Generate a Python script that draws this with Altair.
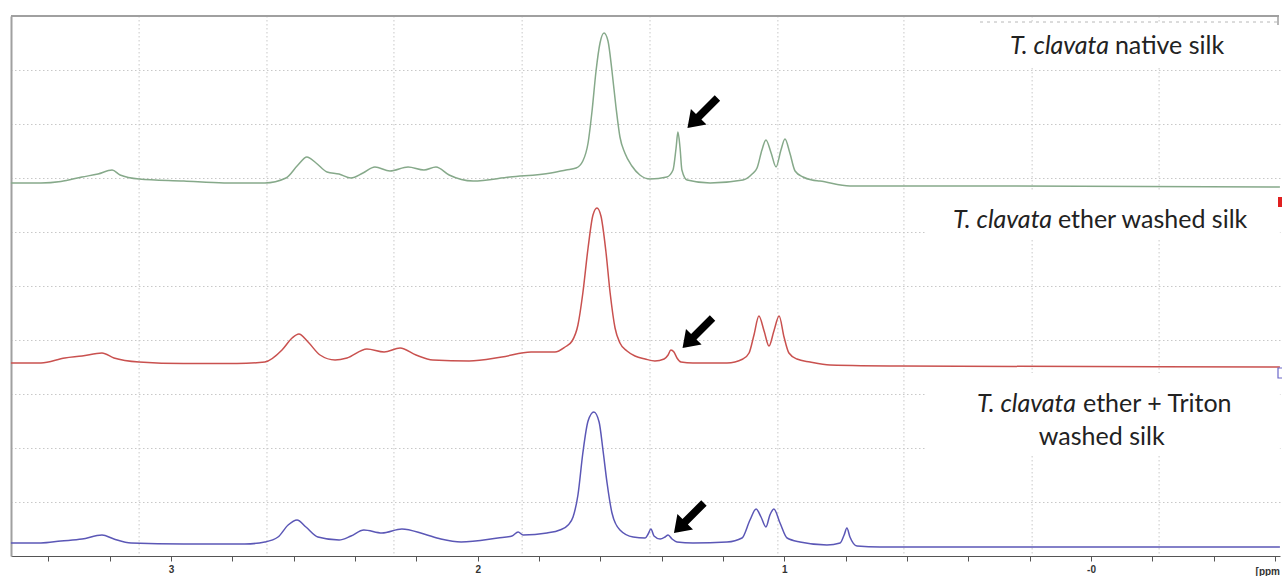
import altair as alt
import pandas as pd

# ---- spectra: chemical shift (ppm) and intensity (a.u.) ----
native_ppm = [3.522, 3.424, 3.359, 3.290, 3.238, 3.192, 3.166, 3.104, 2.958, 2.827, 2.694, 2.625, 2.586, 2.557,
              2.527, 2.491, 2.452, 2.413, 2.374, 2.335, 2.286, 2.227, 2.175, 2.136, 2.093, 2.015, 1.895, 1.761,
              1.712, 1.679, 1.657, 1.640, 1.627, 1.614, 1.601, 1.588, 1.575, 1.562, 1.549, 1.536, 1.520, 1.497,
              1.471, 1.438, 1.383, 1.363, 1.353, 1.347, 1.340, 1.334, 1.317, 1.242, 1.135, 1.105, 1.089, 1.073,
              1.060, 1.043, 1.027, 1.011, 0.998, 0.982, 0.965, 0.939, 0.910, 0.884, 0.786, 0.297, -0.616]
native_int = [0, 0, 1.5, 6, 9, 13, 8, 4, 2, 0, 0, 5, 18, 26,
              20, 11, 9, 5, 10, 16, 12, 16, 13, 16, 8, 2, 6, 10,
              13, 15, 22, 40, 72, 112, 140, 150, 142, 112, 76, 46, 30, 17,
              8, 4, 6, 13, 35, 51, 35, 13, 3, 0, 3, 9, 15, 33,
              43, 30, 16, 33, 44, 30, 12, 6, 3, 2, -3, -3, -4]

ether_ppm = [3.522, 3.424, 3.346, 3.290, 3.225, 3.186, 3.104, 2.958, 2.785, 2.694, 2.638, 2.605, 2.583, 2.553,
             2.514, 2.465, 2.426, 2.361, 2.305, 2.253, 2.201, 2.146, 2.028, 1.921, 1.826, 1.748, 1.715, 1.692,
             1.673, 1.657, 1.640, 1.624, 1.611, 1.598, 1.582, 1.568, 1.552, 1.536, 1.513, 1.487, 1.454, 1.422,
             1.392, 1.379, 1.370, 1.360, 1.350, 1.337, 1.298, 1.187, 1.135, 1.115, 1.099, 1.083, 1.066, 1.050,
             1.034, 1.017, 1.001, 0.985, 0.959, 0.916, 0.851, 0.623, -0.616]
ether_int = [0, 0, 5, 7, 10, 5, 1, -0.5, -0.5, 1, 13, 25, 29, 21,
             8, 3, 5, 14, 11, 15, 8, 3, 2, 6, 11, 11, 16, 22,
             38, 70, 115, 148, 155, 147, 112, 70, 35, 20, 12, 7, 4, 2,
             4, 8, 13, 11, 5, 1, 0, 0, 4, 10, 28, 47, 32, 17,
             32, 47, 26, 10, 4, 1, -2, -3, -4]

triton_ppm = [3.522, 3.424, 3.359, 3.290, 3.225, 3.186, 3.130, 2.958, 2.759, 2.694, 2.651, 2.618, 2.589, 2.560,
              2.521, 2.452, 2.413, 2.371, 2.312, 2.247, 2.175, 2.120, 2.054, 1.934, 1.888, 1.868, 1.852, 1.774,
              1.732, 1.705, 1.689, 1.673, 1.657, 1.640, 1.621, 1.604, 1.591, 1.578, 1.562, 1.536, 1.493, 1.454,
              1.444, 1.435, 1.425, 1.405, 1.389, 1.379, 1.366, 1.350, 1.298, 1.187, 1.138, 1.112, 1.092, 1.076,
              1.060, 1.047, 1.034, 1.014, 0.991, 0.949, 0.861, 0.818, 0.805, 0.796, 0.786, 0.763, 0.688, -0.616]
triton_int = [0, 0, 2, 4, 8, 4, 0, -1, -1, 1, 6, 18, 23, 16,
              6, 3, 7, 13, 10, 14, 9, 4, 1, 5, 7, 11, 8, 10,
              13, 18, 26, 48, 90, 122, 131, 121, 92, 60, 30, 13, 6, 5,
              9, 14, 7, 4, 6, 8, 4, 1, 0, 1, 5, 23, 34, 26,
              16, 28, 34, 20, 5, 1, -2, 0, 8, 15, 6, -3, -4, -4]

traces = ["native", "ether", "triton"]
trace_colors = ["#86a98a", "#c9514f", "#5b57b6"]
stack_offset = [373, 193, 13]          # vertical stacking of the three spectra

# arrows pointing at the 1.35 ppm peak in each spectrum (ppm, stacked height)
arrow_ppm = [1.267, 1.283, 1.311]
arrow_y = [443, 223, 38]

# labels
label_italic = ["T. clavata", "T. clavata", "T. clavata"]
label_rest = ["native silk", "ether washed silk", "ether + Triton"]
label_second = ["washed silk"]

# axis ticks and grid
tick_values = [round(-0.6 + 0.2 * k, 1) for k in range(21)]
vgrid_ppm = [3.104, 2.687, 2.273, 1.855, 1.438, 1.021, 0.610, 0.192, -0.222]
hgrid_vals = [54 * k for k in range(1, 10)]

# ---- tables ----
rows = []
for name, ppm, inten, off in zip(traces, [native_ppm, ether_ppm, triton_ppm],
                                 [native_int, ether_int, triton_int], stack_offset):
    assert len(ppm) == len(inten)
    for p, v in zip(ppm, inten):
        rows.append({"trace": name, "ppm": p, "y": off + v})
spec = pd.DataFrame(rows)

xs = alt.Scale(domain=[-0.6163, 3.5217], reverse=True, nice=False, zero=False)
ys = alt.Scale(domain=[0, 540], nice=False, zero=False)

xaxis = alt.Axis(values=tick_values, grid=False, title=None, tickSize=5, tickColor="#555555",
                 domainColor="#555555", domainWidth=1, labelFont="Liberation Sans", labelFontSize=10,
                 labelFontWeight="bold", labelColor="#333333", labelPadding=3, labelFlush=False,
                 labelOverlap=False,
                 labelExpr="abs(datum.value - round(datum.value)) < 0.01 ? (round(datum.value) == 0 ? '-0' : format(round(datum.value), 'd')) : ''")
yaxis = alt.Axis(values=hgrid_vals, grid=True, gridColor="#c8c8c8", gridDash=[1.5, 2.5], gridWidth=1,
                 ticks=False, labels=False, title=None, domain=True, domainColor="#a0a0a0", domainWidth=2)

X = lambda f="ppm": alt.X(f"{f}:Q", scale=xs, axis=xaxis)
Y = lambda f="y": alt.Y(f"{f}:Q", scale=ys, axis=yaxis)

vgrid = alt.Chart(pd.DataFrame({"ppm": vgrid_ppm})).mark_rule(
    color="#c8c8c8", strokeDash=[1.5, 2.5], strokeWidth=1).encode(x=X())

boxes = pd.DataFrame({"x": [0.362, 0.541, 0.541], "x2": [-0.616, -0.616, -0.616],
                      "y": [534, 364, 183], "y2": [489, 316, 101]})
whites = alt.Chart(boxes).mark_rect(color="white").encode(
    x=X("x"), x2="x2:Q", y=Y("y"), y2="y2:Q")

lines = alt.Chart(spec).mark_line(interpolate="monotone", strokeWidth=1.5).encode(
    x=X(), y=Y(),
    color=alt.Color("trace:N", scale=alt.Scale(domain=traces, range=trace_colors), legend=None),
    detail="trace:N")

arrow_path = "M0,-1 L0.52,-0.25 L0.18,-0.25 L0.18,1 L-0.18,1 L-0.18,-0.25 L-0.52,-0.25 Z"
arrows = alt.Chart(pd.DataFrame({"ppm": arrow_ppm, "y": arrow_y})).mark_point(
    shape=arrow_path, filled=True, color="black", opacity=1, size=1800, angle=225, strokeWidth=0).encode(
    x=X(), y=Y())

font = "Lato"
fs = 25
lab = pd.DataFrame({"ppm_i": [-0.0587, 0.127, 0.049], "ppm_r": [-0.078, 0.108, 0.026],
                    "y": [502, 328, 144], "it": label_italic, "rest": label_rest})
txt_it = alt.Chart(lab).mark_text(font=font, fontSize=fs, fontStyle="italic", align="right",
                                  baseline="alphabetic", color="#222222").encode(
    x=X("ppm_i"), y=Y(), text="it:N")
txt_rest = alt.Chart(lab).mark_text(font=font, fontSize=fs, align="left",
                                    baseline="alphabetic", color="#222222").encode(
    x=X("ppm_r"), y=Y(), text="rest:N")
txt_2 = alt.Chart(pd.DataFrame({"ppm": [-0.035], "y": [111], "t": label_second})).mark_text(
    font=font, fontSize=fs, align="center", baseline="alphabetic", color="#222222").encode(
    x=X(), y=Y(), text="t:N")

# frame details
top_border = alt.Chart(pd.DataFrame({"a": [0]})).mark_rule(color="#a0a0a0", strokeWidth=2).encode(
    x=alt.value(0), x2=alt.value(1268), y=alt.value(0))
top_notch = alt.Chart(pd.DataFrame({"a": [0]})).mark_rule(color="#a0a0a0", strokeWidth=1.5).encode(
    x=alt.value(1267), y=alt.value(0), y2=alt.value(9))
top_dots = alt.Chart(pd.DataFrame({"a": [0]})).mark_rule(color="#b8b8b8", strokeWidth=1,
                                                      strokeDash=[3, 4]).encode(
    x=alt.value(969), x2=alt.value(1266), y=alt.value(6))
red_handle = alt.Chart(pd.DataFrame({"a": [0]})).mark_square(color="#e02020", size=100, opacity=1).encode(
    x=alt.value(1272), y=alt.value(186))
blue_handle = alt.Chart(pd.DataFrame({"a": [0]})).mark_square(filled=False, color="#6a66c8", size=100,
                                                              strokeWidth=1.2, opacity=1).encode(
    x=alt.value(1272), y=alt.value(357))
ppm_unit = alt.Chart(pd.DataFrame({"t": ["[ppm"]})).mark_text(
    font="Liberation Sans", fontSize=10, fontWeight="bold", color="#333333", align="right",
    baseline="top").encode(x=alt.value(1269), y=alt.value(551), text="t:N")

chart = alt.layer(vgrid, whites, lines, arrows, txt_it, txt_rest, txt_2,
                  top_border, top_notch, top_dots, red_handle, blue_handle, ppm_unit).properties(
    width=1269, height=540, autosize="none",
    padding={"left": 11, "top": 16, "right": 2, "bottom": 20},
    background="white",
).configure_view(stroke=None)

chart.save("out.html", embed_options={"renderer": "svg", "actions": False})
